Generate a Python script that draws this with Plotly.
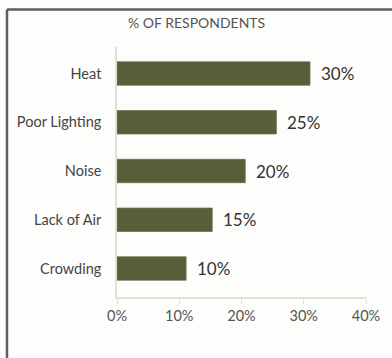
import plotly.graph_objects as go

categories = ["Heat", "Poor Lighting", "Noise", "Lack of Air", "Crowding"]
bar_values = [31, 25.6, 20.6, 15.3, 11.1]
value_labels = ["30%", "25%", "20%", "15%", "10%"]
x_ticks = [0, 10, 20, 30, 40]
x_tick_labels = ["0%", "10%", "20%", "30%", "40%"]
title_text = "% OF RESPONDENTS"

FONT = "Lato, 'Open Sans', sans-serif"
BAR = "#565e3a"
AXIS = "#e3dfd2"

fig = go.Figure()
fig.add_trace(go.Bar(
    x=bar_values, y=categories, orientation="h",
    marker=dict(color=BAR, line=dict(color="#6c7450", width=0.8)),
    width=0.48, hoverinfo="skip",
))

for c, v, t in zip(categories, bar_values, value_labels):
    fig.add_annotation(x=v, y=c, text=t, xanchor="left", yanchor="middle",
                       xshift=9, showarrow=False,
                       font=dict(family=FONT, size=17, color="#333333"))

fig.add_annotation(x=0.321, y=1.096, xref="paper", yref="paper", text=title_text,
                   showarrow=False, xanchor="center", yanchor="middle",
                   font=dict(family=FONT, size=14, color="#555555"))

# frame
fig.add_shape(type="line", xref="paper", yref="paper", x0=-0.4418, x1=-0.4418,
              y0=1.15, y1=-0.3, line=dict(color="#5e5e5e", width=2.5))
fig.add_shape(type="line", xref="paper", yref="paper", x0=-0.4418, x1=1.2,
              y0=1.15, y1=1.15, line=dict(color="#5e5e5e", width=2.5))

fig.update_layout(
    width=392, height=358,
    margin=dict(l=117, r=26, t=47, b=61),
    paper_bgcolor="#fdfdfb", plot_bgcolor="#fdfdfb",
    showlegend=False,
    xaxis=dict(range=[0, 40], tickvals=x_ticks, ticktext=x_tick_labels,
               showgrid=False, zeroline=False, showline=True, linecolor=AXIS,
               linewidth=1.5, ticks="outside", ticklen=5, tickcolor=AXIS,
               tickfont=dict(family=FONT, size=14.5, color="#555555")),
    yaxis=dict(categoryorder="array", categoryarray=categories,
               range=[4.585, -0.544], showgrid=False, zeroline=False,
               showline=True, linecolor=AXIS, linewidth=1.5, ticks="",
               ticklabelstandoff=11,
               tickfont=dict(family=FONT, size=14.5, color="#444444")),
)

fig.write_html("out.html")
